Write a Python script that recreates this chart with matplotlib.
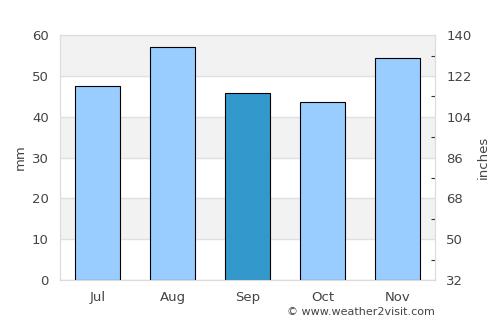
import matplotlib
matplotlib.use("Agg")
from matplotlib import pyplot as plt

months = ["Jul", "Aug", "Sep", "Oct", "Nov"]
rain_mm = [47.5, 57.2, 45.8, 43.5, 54.3]
bar_colors = ["#99ccff", "#99ccff", "#3399cc", "#99ccff", "#99ccff"]
left_ticks = [0, 10, 20, 30, 40, 50, 60]
right_labels = [32, 50, 68, 86, 104, 122, 140]

txt = "#444444"
fig = plt.figure(figsize=(5.0, 3.25), dpi=100)
ax = fig.add_axes([0.12, 0.138, 0.75, 0.754])

# alternating background bands
for i in range(0, 60, 10):
    if (i // 10) % 2 == 1:
        ax.axhspan(i, i + 10, color="#f2f2f2", zorder=0, lw=0)
for t in left_ticks:
    ax.axhline(t, color="#e0e0e0", lw=1, zorder=1)

x = list(range(len(months)))
ax.bar(x, rain_mm, width=0.6, color=bar_colors, edgecolor="black", linewidth=0.8, zorder=3)

ax.set_xlim(-0.5, len(months) - 0.5)
ax.set_ylim(0, 60)
ax.set_xticks(x)
ax.set_xticklabels(months)
ax.set_yticks(left_ticks)
ax.set_ylabel("mm", color=txt, fontsize=9.5)
ax.tick_params(axis="both", colors=txt, labelsize=9.5, length=0, pad=8)
for s in ax.spines.values():
    s.set_color("#dddddd")

ax2 = ax.twinx()
ax2.set_ylim(32, 140)
ax2.set_yticks(right_labels)
ax2.set_yticks([41, 59, 77, 95, 113, 131], minor=True)
ax2.set_ylabel("inches", color=txt, fontsize=9.5)
ax2.tick_params(axis="y", which="major", colors=txt, labelsize=9.5, length=0, pad=8)
ax2.tick_params(axis="y", which="minor", colors="#333333", length=3, width=0.8, direction="in")
for s in ax2.spines.values():
    s.set_color("#dddddd")

fig.text(0.87, 0.025, "\u00a9 www.weather2visit.com", ha="right", va="bottom",
         color=txt, fontsize=8)

fig.savefig("out.png", dpi=100)
